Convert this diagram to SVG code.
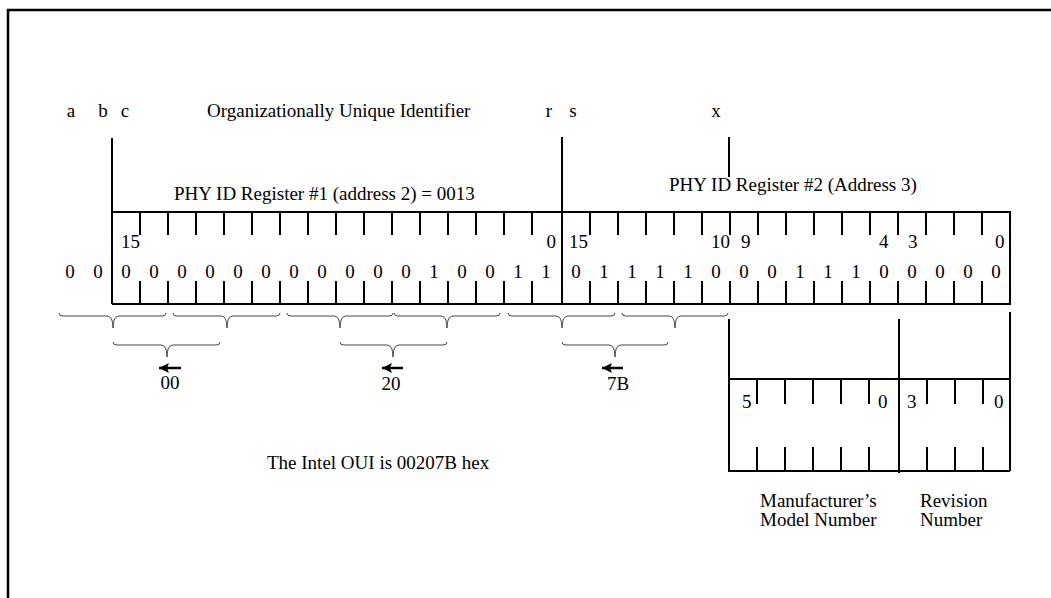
<svg xmlns="http://www.w3.org/2000/svg" width="1051" height="598" viewBox="0 0 1051 598">
<defs>
<style>
text{font-family:"Liberation Serif","Times New Roman",serif;font-size:19px;fill:#000}
.m{text-anchor:middle}
.e{text-anchor:end}
.ln{stroke:#000;stroke-width:2;fill:none}
.fr{stroke:#000;stroke-width:2.5;fill:none}
.br{stroke:#444;stroke-width:1;fill:none}
.ar{stroke:#000;stroke-width:2.5;fill:none}
</style>
<marker id="ah" viewBox="0 0 10 10" refX="0" refY="5" markerWidth="11" markerHeight="10" orient="auto" markerUnits="userSpaceOnUse">
<path d="M0,5 L10,0 L8,5 L10,10 Z" fill="#000"/>
</marker>
</defs>
<rect width="1051" height="598" fill="#fff"/>
<g id="frame">
<path class="fr" d="M8,598 V10 H1051"/>
</g>
<g id="top-labels">
<text class="m" x="71" y="117">a</text>
<text class="m" x="103" y="117">b</text>
<text class="m" x="125" y="117">c</text>
<text x="207" y="117">Organizationally Unique Identifier</text>
<text class="m" x="549" y="117">r</text>
<text class="m" x="573" y="117">s</text>
<text class="m" x="716" y="117">x</text>
</g>
<g id="register1">
<path class="ln" d="M112,138 V304 M112,212 H562 M112,304 H562 M140,212v23 M168,212v23 M196,212v23 M224,212v23 M252,212v23 M280,212v23 M308,212v23 M336,212v23 M364,212v23 M392,212v23 M420,212v23 M448,212v23 M476,212v23 M504,212v23 M532,212v23 M140,281v23 M168,281v23 M196,281v23 M224,281v23 M252,281v23 M280,281v23 M308,281v23 M336,281v23 M364,281v23 M392,281v23 M420,281v23 M448,281v23 M476,281v23 M504,281v23 M532,281v23"/>
<text x="174" y="200">PHY ID Register #1 (address 2) = 0013</text>
<text x="121" y="248">15</text>
<text class="e" x="556" y="248">0</text>
<text class="m" x="70" y="278">0</text>
<text class="m" x="98" y="278">0</text>
<text class="m" x="126" y="278">0</text>
<text class="m" x="154" y="278">0</text>
<text class="m" x="182" y="278">0</text>
<text class="m" x="210" y="278">0</text>
<text class="m" x="238" y="278">0</text>
<text class="m" x="266" y="278">0</text>
<text class="m" x="294" y="278">0</text>
<text class="m" x="322" y="278">0</text>
<text class="m" x="350" y="278">0</text>
<text class="m" x="378" y="278">0</text>
<text class="m" x="406" y="278">0</text>
<text class="m" x="434" y="278">1</text>
<text class="m" x="462" y="278">0</text>
<text class="m" x="490" y="278">0</text>
<text class="m" x="518" y="278">1</text>
<text class="m" x="546" y="278">1</text>
</g>
<g id="register2">
<path class="ln" d="M562,137 V304 M729,137 V177 M562,212 H1010 V304 H562 M590,212v23 M618,212v23 M646,212v23 M674,212v23 M702,212v23 M730,212v23 M758,212v23 M786,212v23 M814,212v23 M842,212v23 M870,212v23 M898,212v23 M926,212v23 M954,212v23 M982,212v23 M590,281v23 M618,281v23 M646,281v23 M674,281v23 M702,281v23 M730,281v23 M758,281v23 M786,281v23 M814,281v23 M842,281v23 M870,281v23 M898,281v23 M926,281v23 M954,281v23 M982,281v23"/>
<text x="669" y="191">PHY ID Register #2 (Address 3)</text>
<text x="569" y="248">15</text>
<text x="711" y="248">10</text>
<text x="741" y="248">9</text>
<text x="879" y="248">4</text>
<text x="908" y="248">3</text>
<text x="995" y="248">0</text>
<text class="m" x="576" y="278">0</text>
<text class="m" x="604" y="278">1</text>
<text class="m" x="632" y="278">1</text>
<text class="m" x="660" y="278">1</text>
<text class="m" x="688" y="278">1</text>
<text class="m" x="716" y="278">0</text>
<text class="m" x="744" y="278">0</text>
<text class="m" x="772" y="278">0</text>
<text class="m" x="800" y="278">1</text>
<text class="m" x="828" y="278">1</text>
<text class="m" x="856" y="278">1</text>
<text class="m" x="884" y="278">0</text>
<text class="m" x="912" y="278">0</text>
<text class="m" x="940" y="278">0</text>
<text class="m" x="968" y="278">0</text>
<text class="m" x="996" y="278">0</text>
</g>
<g id="connectors">
<path class="br" d="M59,313 Q59,316 63,316 H107 Q113,316 113,328 Q113,316 119,316 H162 Q166,316 166,313"/>
<path class="br" d="M173,313 Q173,316 177,316 H221 Q227,316 227,328 Q227,316 233,316 H276 Q280,316 280,313"/>
<path class="br" d="M287,313 Q287,316 291,316 H334 Q340,316 340,328 Q340,316 346,316 H389 Q393,316 393,313"/>
<path class="br" d="M394,313 Q394,316 398,316 H441 Q447,316 447,328 Q447,316 453,316 H496 Q500,316 500,313"/>
<path class="br" d="M508,313 Q508,316 512,316 H556 Q562,316 562,328 Q562,316 568,316 H611 Q615,316 615,313"/>
<path class="br" d="M622,313 Q622,316 626,316 H669 Q675,316 675,328 Q675,316 681,316 H724 Q728,316 728,313"/>
<path class="br" d="M113,342 Q113,345 117,345 H161 Q167,345 167,357 Q167,345 173,345 H216 Q220,345 220,342"/>
<path class="br" d="M340,342 Q340,345 344,345 H387 Q393,345 393,357 Q393,345 399,345 H443 Q447,345 447,342"/>
<path class="br" d="M562,342 Q562,345 566,345 H609 Q615,345 615,357 Q615,345 621,345 H664 Q668,345 668,342"/>
<path class="ar" marker-start="url(#ah)" d="M159,368 H181"/>
<path class="ar" marker-start="url(#ah)" d="M382,368 H403"/>
<path class="ar" marker-start="url(#ah)" d="M602,368 H623"/>
</g>
<g id="hex-labels">
<text class="m" x="170" y="389">00</text>
<text class="m" x="391" y="390">20</text>
<text class="m" x="618" y="390">7B</text>
<text x="267" y="469">The Intel OUI is 00207B hex</text>
</g>
<g id="model-revision">
<path class="ln" d="M729,319 V472 M899,319 V473 M1010,312 V471 M729,379 H1010 M729,471 H1010 M757,379v25 M785,379v25 M813,379v25 M841,379v25 M869,379v25 M927,379v25 M955,379v25 M983,379v25 M757,447v24 M785,447v24 M813,447v24 M841,447v24 M869,447v24 M927,447v24 M955,447v24 M983,447v24"/>
<text x="742" y="408">5</text>
<text x="878" y="408">0</text>
<text x="907" y="408">3</text>
<text x="994" y="408">0</text>
<text x="760" y="507">Manufacturer’s</text>
<text x="760" y="526">Model Number</text>
<text x="920" y="507">Revision</text>
<text x="920" y="526">Number</text>
</g>
</svg>
